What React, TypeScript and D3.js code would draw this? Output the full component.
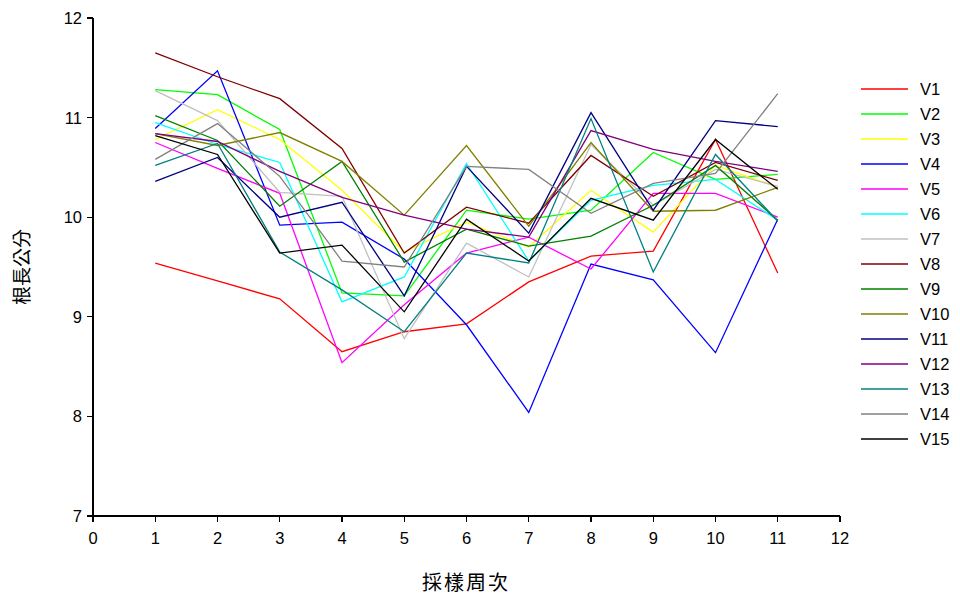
import React from "react";
import * as d3 from "d3";

const weeks = [1, 2, 3, 4, 5, 6, 7, 8, 9, 10, 11];
const xTicks = [0, 1, 2, 3, 4, 5, 6, 7, 8, 9, 10, 11, 12];
const yTicks = [7, 8, 9, 10, 11, 12];

const seriesNames = ["V1", "V2", "V3", "V4", "V5", "V6", "V7", "V8", "V9", "V10", "V11", "V12", "V13", "V14", "V15"];
const seriesColors = [
  "#ff0000", "#00ff00", "#ffff00", "#0000ff", "#ff00ff",
  "#00ffff", "#c0c0c0", "#800000", "#008000", "#808000",
  "#000080", "#800080", "#008080", "#808080", "#000000",
];

const v1 = [9.54, 9.36, 9.18, 8.65, 8.85, 8.93, 9.35, 9.61, 9.66, 10.78, 9.44];
const v2 = [11.28, 11.23, 10.88, 9.24, 9.21, 10.07, 9.98, 10.07, 10.65, 10.38, 10.43];
const v3 = [10.78, 11.08, 10.78, 10.27, 9.65, 9.95, 9.7, 10.27, 9.85, 10.52, 10.3];
const v4 = [10.89, 11.47, 9.92, 9.95, 9.58, 8.92, 8.04, 9.53, 9.37, 8.64, 9.98];
const v5 = [10.75, 10.49, 10.24, 8.54, 9.12, 9.64, 9.8, 9.48, 10.24, 10.24, 10.0];
const v6 = [10.95, 10.73, 10.55, 9.15, 9.4, 10.54, 9.56, 10.17, 10.32, 10.38, 9.97];
const v7 = [11.27, 10.97, 10.25, 10.21, 8.78, 9.74, 9.4, 10.73, 10.12, 10.48, 10.31];
const v8 = [11.65, 11.41, 11.19, 10.69, 9.64, 10.1, 9.94, 10.62, 10.21, 10.55, 10.37];
const v9 = [11.02, 10.77, 10.11, 10.56, 9.55, 9.88, 9.71, 9.81, 10.12, 10.52, 9.97];
const v10 = [10.84, 10.72, 10.85, 10.56, 10.02, 10.72, 9.91, 10.75, 10.06, 10.07, 10.3];
const v11 = [10.36, 10.6, 10.0, 10.15, 9.21, 10.51, 9.84, 11.05, 10.07, 10.97, 10.91];
const v12 = [10.84, 10.76, 10.46, 10.2, 10.02, 9.88, 9.8, 10.87, 10.68, 10.56, 10.46];
const v13 = [10.52, 10.74, 9.65, 9.27, 8.85, 9.64, 9.54, 10.99, 9.45, 10.63, 9.96];
const v14 = [10.58, 10.94, 10.41, 9.56, 9.5, 10.51, 10.48, 10.04, 10.34, 10.44, 11.24];
const v15 = [10.82, 10.63, 9.64, 9.72, 9.05, 9.98, 9.56, 10.19, 9.97, 10.78, 10.28];

const seriesValues = [v1, v2, v3, v4, v5, v6, v7, v8, v9, v10, v11, v12, v13, v14, v15];

const W = 960;
const H = 596;
const left = 93;
const right = 840;
const top = 18;
const bottom = 516;

const tickFont = "'Liberation Sans', Arial, sans-serif";
const cjkFont = "'Noto Sans CJK TC', 'Noto Sans CJK SC', sans-serif";

export default function App() {
  const x = d3.scaleLinear().domain([0, 12]).range([left, right]);
  const y = d3.scaleLinear().domain([7, 12]).range([bottom, top]);
  const line = d3
    .line<number>()
    .x((_, i) => x(weeks[i]))
    .y((d) => y(d));

  return (
    <svg
      width={W}
      height={H}
      style={{ position: "absolute", left: 0, top: 0, background: "#fff" }}
    >
      <rect x={0} y={0} width={W} height={H} fill="#fff" />

      {/* series lines */}
      <g fill="none" strokeWidth={1.3} strokeLinejoin="miter">
        {seriesValues.map((vals, i) => (
          <path key={seriesNames[i]} d={line(vals) || ""} stroke={seriesColors[i]} />
        ))}
      </g>

      {/* axes */}
      <g stroke="#000" strokeWidth={1.2} shapeRendering="crispEdges">
        <line x1={left} x2={left} y1={top} y2={bottom + 6} />
        <line x1={left - 6} x2={right} y1={bottom} y2={bottom} />
        {yTicks.map((t) => (
          <line key={"yt" + t} x1={left - 6} x2={left} y1={y(t)} y2={y(t)} />
        ))}
        {xTicks.map((t) => (
          <line key={"xt" + t} x1={x(t)} x2={x(t)} y1={bottom} y2={bottom + 6} />
        ))}
      </g>
      <g fontFamily={tickFont} fontSize={16.5} fill="#000">
        {yTicks.map((t) => (
          <text key={"yl" + t} x={left - 11} y={y(t)} dy="0.36em" textAnchor="end">
            {t}
          </text>
        ))}
        {xTicks.map((t) => (
          <text key={"xl" + t} x={x(t)} y={bottom + 28} textAnchor="middle">
            {t}
          </text>
        ))}
      </g>

      {/* axis titles */}
      <text
        x={466}
        y={590}
        textAnchor="middle"
        fontFamily={cjkFont}
        fontSize={20}
        letterSpacing={2}
        fill="#000"
      >
        採樣周次
      </text>
      <text
        transform={`translate(29, ${(top + bottom) / 2}) rotate(-90)`}
        textAnchor="middle"
        fontFamily={cjkFont}
        fontSize={19}
        fill="#000"
      >
        根長公分
      </text>

      {/* legend */}
      <g fontFamily={tickFont} fontSize={16.5} fill="#000">
        {seriesNames.map((name, i) => {
          const ly = 89 + i * 25;
          return (
            <g key={"lg" + name}>
              <line x1={861} x2={908} y1={ly} y2={ly} stroke={seriesColors[i]} strokeWidth={1.3} />
              <text x={920} y={ly} dy="0.36em">
                {name}
              </text>
            </g>
          );
        })}
      </g>
    </svg>
  );
}
